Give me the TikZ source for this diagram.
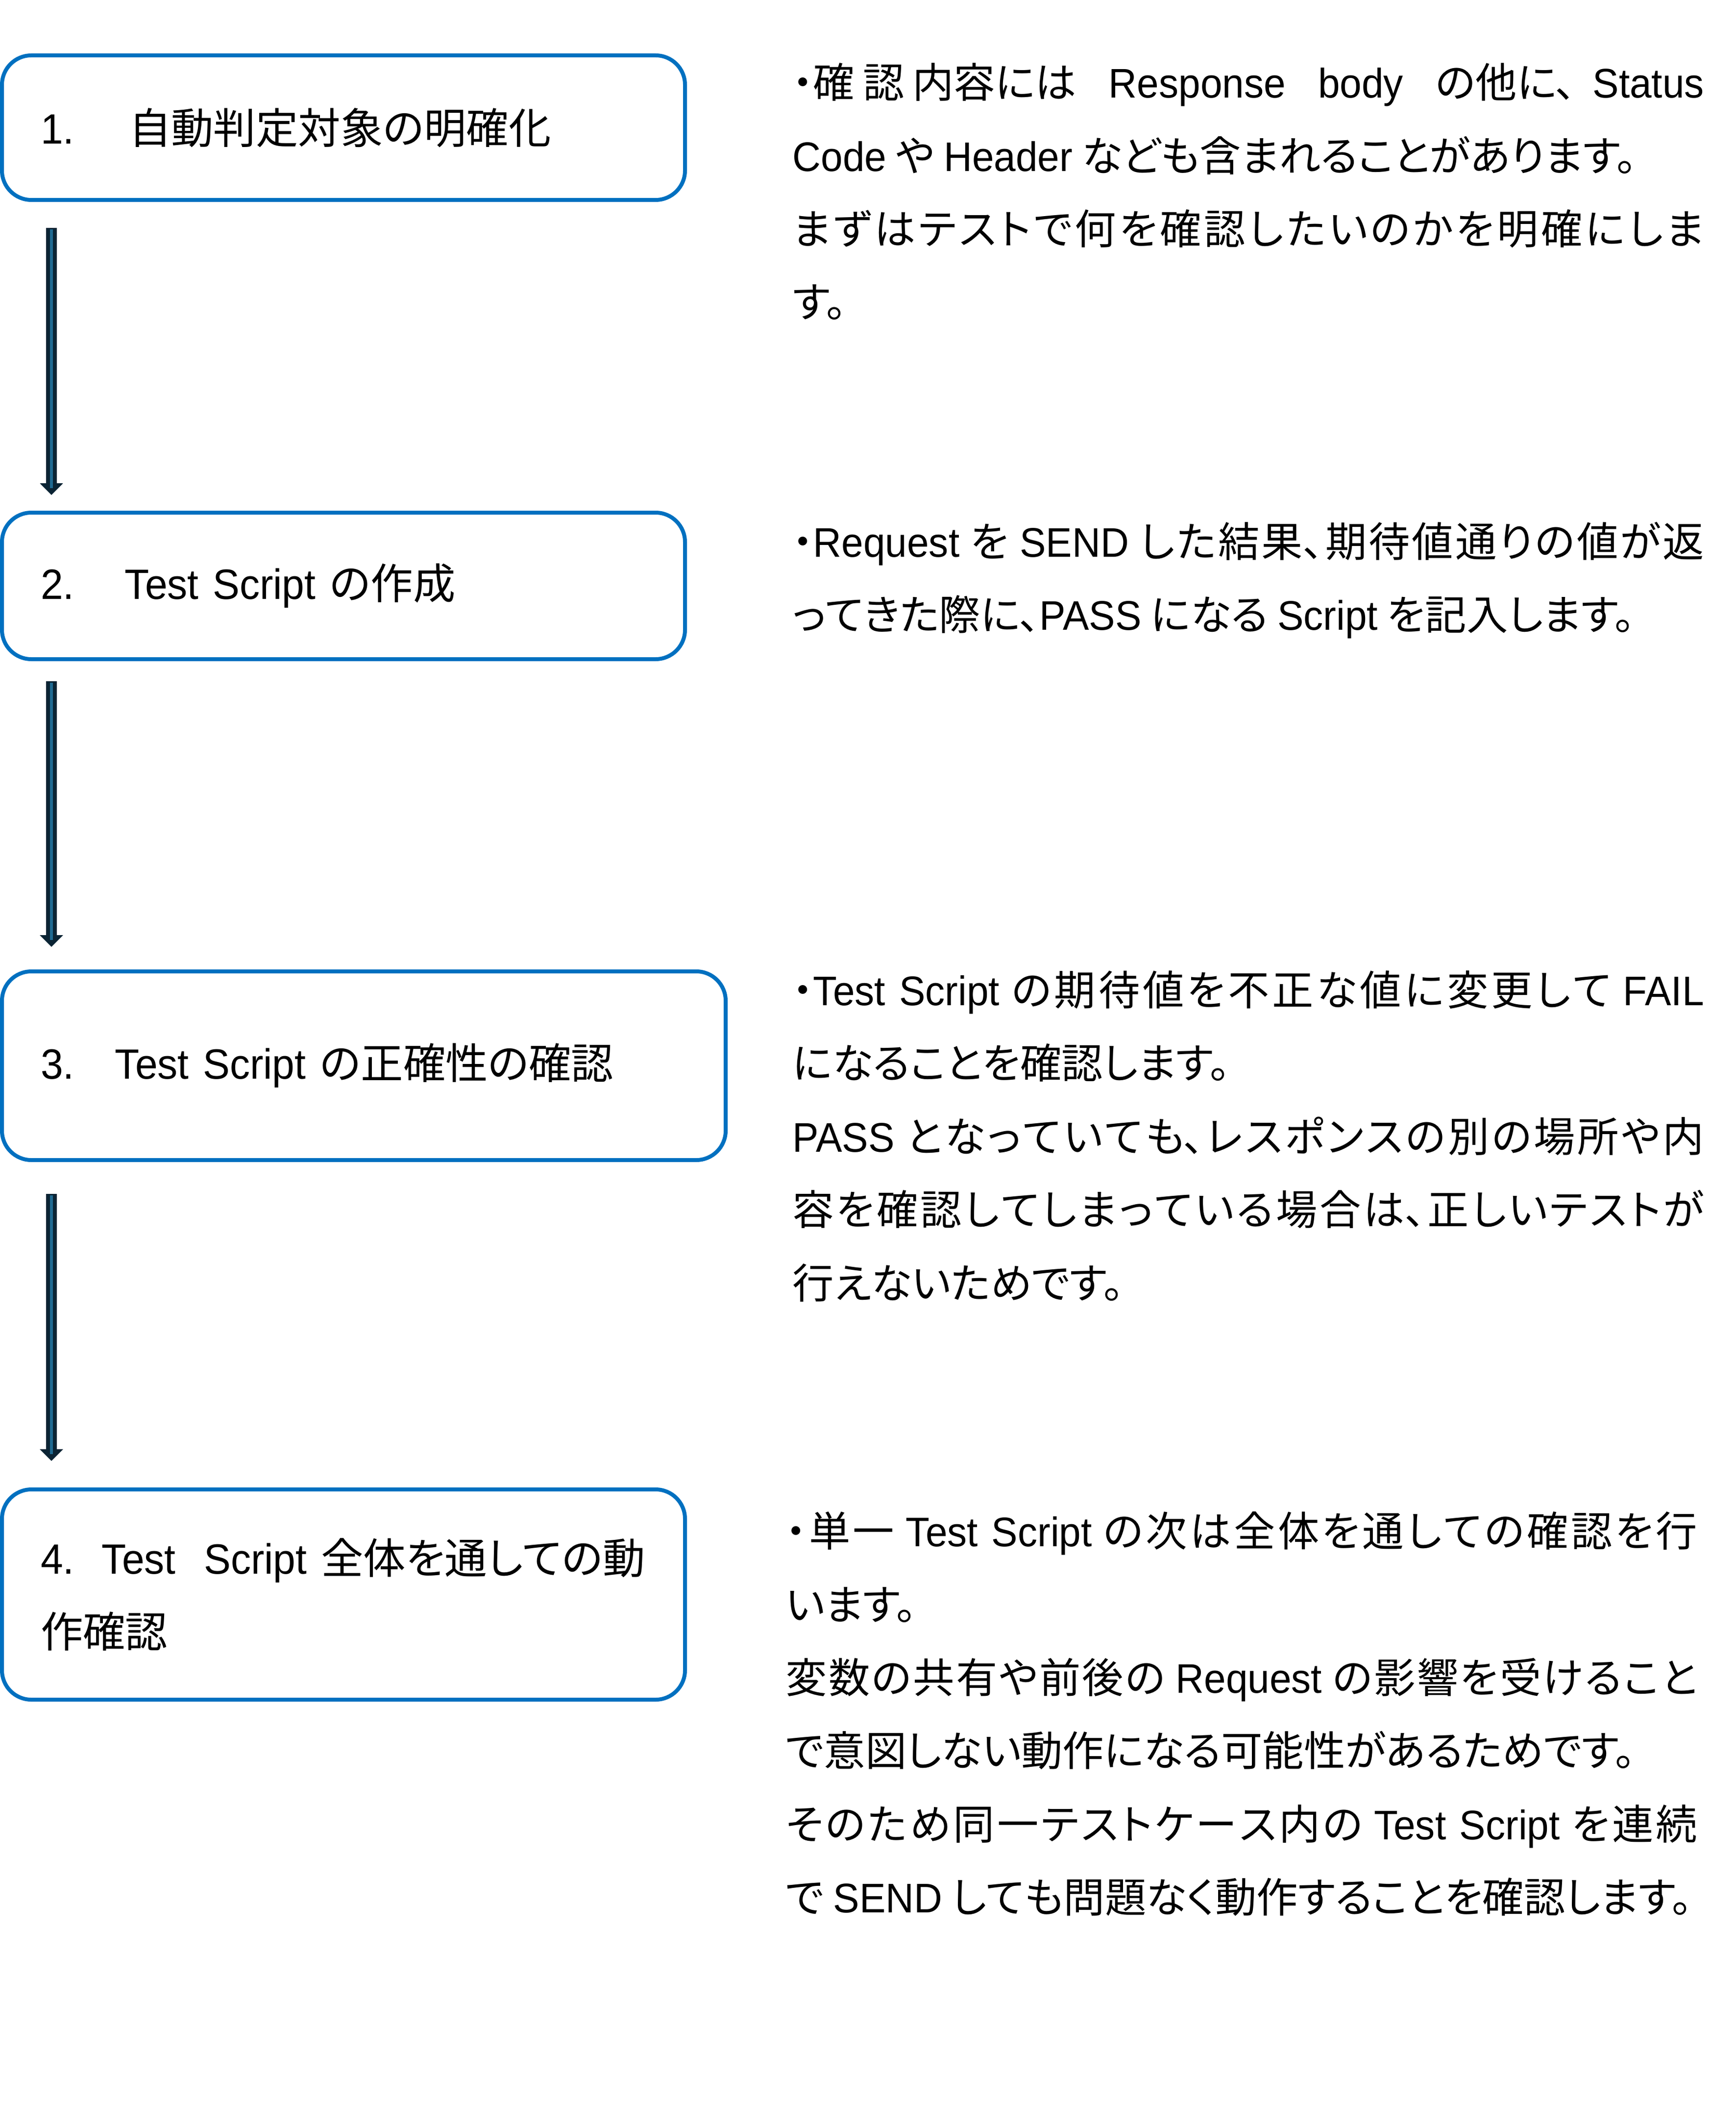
\documentclass[tikz,border=0pt]{standalone}
\usepackage{fontspec}
\setmainfont{Noto Sans CJK JP}[RawFeature=+palt]
\newfontfamily\latinfont{Liberation Sans}[FakeStretch=0.95]
\newcommand{\lt}[1]{{\latinfont #1}}
\newcommand{\gap}{\hspace{0.25em plus 1fil}}
\usetikzlibrary{arrows.meta,positioning}

\XeTeXlinebreaklocale "ja"
\XeTeXlinebreakskip=0pt plus 3pt minus 0.5pt
\setlength{\parindent}{0pt}
\tolerance=10000

\definecolor{boxblue}{HTML}{0070C0}
\definecolor{arrowdark}{HTML}{0B2434}
\definecolor{arrowcore}{HTML}{1F6A92}

\tikzset{
    stepbox/.style={draw=boxblue, line width=0.08cm, rounded corners=0.6cm,
        anchor=north west, inner xsep=0.79cm, inner ysep=0pt, align=left,
        text width=12.36cm, font=\fontsize{24.6}{42.5}\selectfont},
    notetext/.style={anchor=north west, inner sep=0pt, text width=18.6cm,
        align=justify, font=\fontsize{24}{42.5}\selectfont},
    flowarrow/.style={draw=arrowdark, line width=0.22cm,
        -{Triangle[width=0.46cm, length=0.24cm]},
        postaction={draw=arrowcore, line width=0.06cm, -, shorten >=0.14cm, shorten <=0.03cm}}
}

\begin{document}
\begin{tikzpicture}
    \useasboundingbox (0,0) rectangle (35.43,-43.42);

    % Steps
    \node[stepbox, minimum height=2.95cm] (b1) at (0,-1.09)
        {\makebox[1.80cm][l]{\lt{1.}}自動判定対象の明確化};
    \node[stepbox, minimum height=2.99cm] (b2) at (0,-10.42)
        {\makebox[1.72cm][l]{\lt{2.}}\lt{Test Script} の作成};
    \node[stepbox, minimum height=3.85cm, text width=13.19cm] (b3) at (0,-19.78)
        {\makebox[1.52cm][l]{\lt{3.}}\lt{Test Script} の正確性の確認};
    \node[stepbox, minimum height=4.29cm] (b4) at (0,-30.35)
        {\makebox[1.25cm][l]{\lt{4.}}\lt{Test\ \ Script} 全体を通しての動\\作確認};

    % Arrows between steps
    \foreach \a/\b/\s/\e in {b1/b2/-0.53/0.32, b2/b3/-0.41/0.46, b3/b4/-0.65/0.54}
        \draw[flowarrow] ([xshift=1.05cm, yshift=\s cm]\a.south west)
            -- ([xshift=1.05cm, yshift=\e cm]\b.north west);

    % Notes
    \node[notetext] (n1) at (16.17,-1.28) {%
        ・確\hspace{0.2em}認\hspace{0.2em}内容には\gap\lt{Response}\gap\lt{body}\gap の他に、\hspace{0.4em}\lt{Status}\linebreak
        \lt{Code} や \lt{Header} なども含まれることがあります。\par
        まずはテストで何を確認したいのかを明確にしま\linebreak
        す。};
    \node[notetext] (n2) at (16.17,-10.64) {%
        ・\lt{Request} を \lt{SEND} した結果、期待値通りの値が返\linebreak
        ってきた際に、\lt{PASS} になる \lt{Script} を記入します。};
    \node[notetext] (n3) at (16.17,-19.80) {%
        ・\lt{Test Script} の期待値を不正な値に変更して \lt{FAIL}\linebreak
        になることを確認します。\par
        \lt{PASS} となっていても、レスポンスの別の場所や内\linebreak
        容を確認してしまっている場合は、正しいテストが\linebreak
        行えないためです。};
    \node[notetext] (n4) at (16.03,-30.84) {%
        ・単一 \lt{Test Script} の次は全体を通しての確認を行\linebreak
        います。\par
        変数の共有や前後の \lt{Request} の影響を受けること\linebreak
        で意図しない動作になる可能性があるためです。\par
        そのため同一テストケース内の \lt{Test Script} を連続\linebreak
        で \lt{SEND} しても問題なく動作することを確認します。};
\end{tikzpicture}
\end{document}
